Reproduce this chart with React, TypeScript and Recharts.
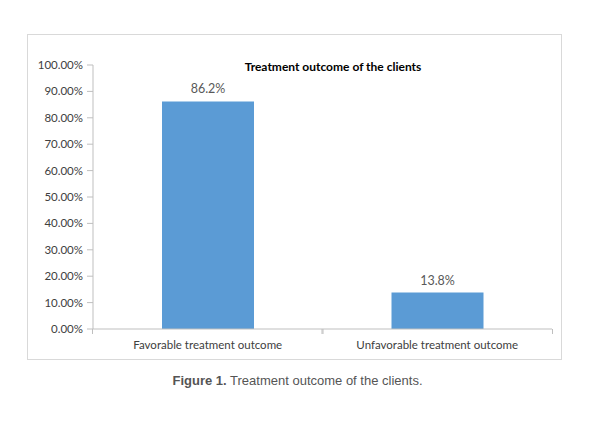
import React from "react";
import { BarChart, Bar, XAxis, YAxis, LabelList } from "recharts";

const categories = ["Favorable treatment outcome", "Unfavorable treatment outcome"];
const outcomeShare = [86.2, 13.8];
const yTicks = [0, 10, 20, 30, 40, 50, 60, 70, 80, 90, 100];

const data = categories.map((name, i) => ({ name, value: outcomeShare[i] }));

const BOX_W = 535;
const BOX_H = 326;
const MARGIN = { top: 30, right: 9, left: 5, bottom: 5 };
const Y_WIDTH = 60;
const PLOT_W = BOX_W - MARGIN.left - MARGIN.right - Y_WIDTH;
const HALF_BAND = PLOT_W / categories.length / 2;

function CategoryTick(props: any) {
  const { x, y, payload } = props;
  return (
    <g>
      <line x1={x - HALF_BAND} x2={x - HALF_BAND} y1={y - 8} y2={y - 3} stroke="#bfbfbf" />
      <line x1={x + HALF_BAND} x2={x + HALF_BAND} y1={y - 8} y2={y - 3} stroke="#bfbfbf" />
      <text x={x} y={y + 12} textAnchor="middle" fontSize={11.5} fill="#404040">
        {payload.value}
      </text>
    </g>
  );
}

export default function App() {
  return (
    <div
      style={{
        position: "absolute",
        left: 0,
        top: 0,
        width: 595,
        height: 425,
        background: "#fff",
        fontFamily: "Lato, sans-serif",
      }}
    >
      <div
        style={{
          position: "absolute",
          left: 27,
          top: 34,
          width: BOX_W,
          height: BOX_H,
          border: "1px solid #d9d9d9",
          boxSizing: "border-box",
        }}
      >
        <BarChart width={BOX_W - 2} height={BOX_H - 2} data={data} margin={MARGIN} barSize={92}>
          <text
            x={305}
            y={36}
            textAnchor="middle"
            fontSize={12}
            fontWeight="bold"
            fill="#000"
          >
            Treatment outcome of the clients
          </text>
          <XAxis
            dataKey="name"
            axisLine={{ stroke: "#bfbfbf" }}
            tickLine={false}
            tick={<CategoryTick />}
            height={25}
            interval={0}
          />
          <YAxis
            width={Y_WIDTH}
            domain={[0, 100]}
            ticks={yTicks}
            interval={0}
            axisLine={{ stroke: "#bfbfbf" }}
            tickLine={{ stroke: "#bfbfbf" }}
            tickSize={6}
            tickMargin={4}
            tick={{ fontSize: 11.5, fill: "#404040" }}
            tickFormatter={(v: number) => `${v.toFixed(2)}%`}
          />
          <Bar dataKey="value" fill="#5b9bd5" isAnimationActive={false}>
            <LabelList
              dataKey="value"
              position="top"
              offset={8}
              fontSize={12.5}
              fill="#595959"
              formatter={(v: any) => `${v}%`}
            />
          </Bar>
        </BarChart>
      </div>
      <div
        style={{
          position: "absolute",
          top: 373,
          left: 0,
          width: 595,
          textAlign: "center",
          fontFamily: "'Liberation Sans', Arial, sans-serif",
          fontSize: 13,
          color: "#555",
        }}
      >
        <b>Figure 1.</b> Treatment outcome of the clients.
      </div>
    </div>
  );
}
